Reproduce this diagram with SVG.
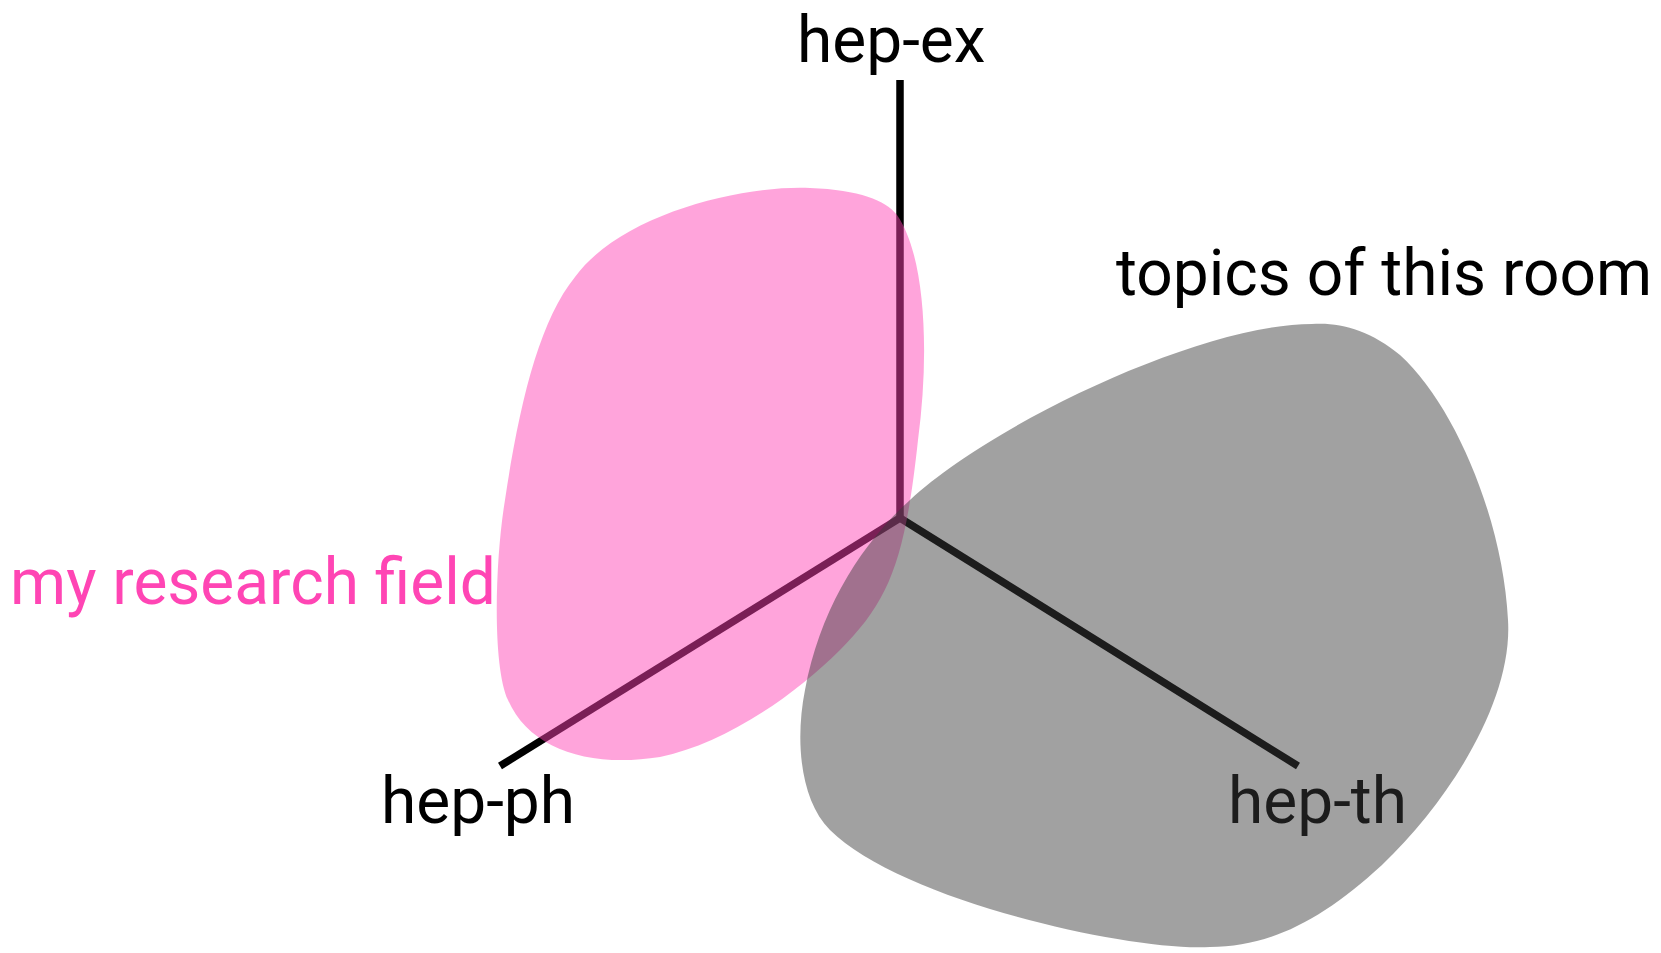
<svg xmlns="http://www.w3.org/2000/svg" width="1661" height="953" viewBox="0 0 1661 953">
<style>
.lbl{font-family:Roboto,"Liberation Sans",sans-serif;font-size:64px;fill:#000}
.axis{stroke:#000;stroke-width:7.5;fill:none;stroke-linecap:butt}
</style>
<rect width="1661" height="953" fill="#fff"/>
<g id="connectors">
<line class="axis" x1="900" y1="80" x2="900" y2="518"/>
<line class="axis" x1="900" y1="518" x2="500" y2="766"/>
<line class="axis" x1="900" y1="518" x2="1298" y2="766"/>
</g>
<g id="hep-ex"><text class="lbl" x="797" y="62">hep-ex</text></g>
<g id="hep-ph"><text class="lbl" x="381" y="823">hep-ph</text></g>
<g id="hep-th"><text class="lbl" x="1228" y="823">hep-th</text></g>
<g id="my-research-field">
<path d="M 575,277 C 620,215 740,185 810,188 C 860,190 885,200 897,215 C 925,255 930,350 918,440 C 905,560 890,600 840,650 C 790,700 720,745 660,757 C 590,768 530,750 508,700 C 492,665 495,560 505,500 C 520,400 540,320 575,277 Z" fill="#ff41b3" fill-opacity="0.48"/>
<text class="lbl" x="10" y="604" style="fill:#ff45b4">my research field</text>
</g>
<g id="topics-of-this-room">
<path d="M 1312,324 C 1340,322 1370,330 1400,355 C 1455,405 1503,520 1508,620 C 1513,700 1450,800 1382,865 C 1322,920 1270,947 1210,947 C 1130,952 900,900 830,830 C 800,800 795,740 805,690 C 820,610 860,545 910,500 C 990,425 1200,324 1312,324 Z" fill="#3a3a3a" fill-opacity="0.48"/>
<text class="lbl" x="1116" y="295">topics of this room</text>
</g>
</svg>
